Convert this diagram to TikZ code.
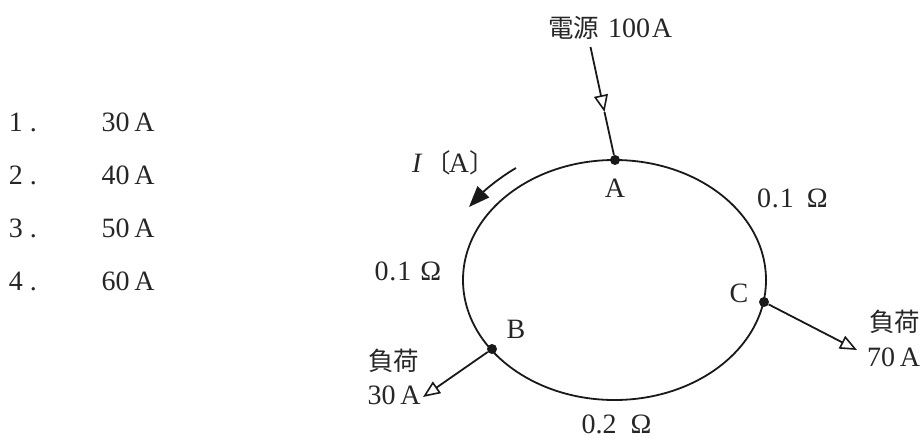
\documentclass[tikz,border=0pt]{standalone}
\usepackage{fontspec}
\setmainfont{Liberation Serif}
\newfontfamily\cjk{Noto Sans CJK JP}
\usetikzlibrary{arrows.meta}
\tikzset{
  px/.style={x=1pt,y=-1pt},
  lbl/.style={inner sep=0pt,outer sep=0pt,font=\fontsize{28}{32}\selectfont,text=black!85},
  wire/.style={line width=1.8pt,black!90},
  dotnode/.style={circle,fill=black!90,inner sep=0pt,minimum size=10pt},
  hollow/.style={-{Triangle[open,fill=white,length=17pt,width=14pt,line width=1.6pt]}}
}
\newcommand{\cjktxt}[1]{{\cjk\fontsize{25.5}{30}\selectfont #1}}
\begin{document}
\begin{tikzpicture}[px]
\useasboundingbox (0,0) rectangle (923,439);
% options
\foreach \n/\v/\y in {1/30/131,2/40/184,3/50/237,4/60/290}{
  \node[lbl,anchor=base west] (num\n) at (9,\y) {\n\hspace{7pt}.};
  \node[lbl,anchor=base west] (val\n) at (101.5,\y) {\v\hspace{5pt}A};
}
% ring
\draw[wire] (614.5,280) ellipse [x radius=151.5,y radius=120];
\node[dotnode] (A) at (615,160) {};
\node[dotnode] (B) at (492,349) {};
\node[dotnode] (C) at (764,302) {};
% source
\coordinate (srcstart) at (590.5,47);
\coordinate (srctip) at (604.5,112);
\draw[wire,hollow] (srcstart) -- (srctip);
\draw[wire] (srctip) -- (A);
% loads
\coordinate (btip) at (423,397);
\draw[wire,hollow] (B) -- (btip);
\coordinate (ctip) at (857,350);
\draw[wire,hollow] (C) -- (ctip);
% current arrow
\coordinate (istart) at (516,168);
\coordinate (iend) at (469,207);
\draw[wire,-{Triangle[length=21pt,width=16pt]}] (istart) .. controls (502,176) and (486,189) .. (iend);
% labels
\node[lbl,anchor=base west] (src) at (548,37) {\cjktxt{電源}\hspace{9pt}100\hspace{2pt}A};
\node[lbl,anchor=base] (la) at (615,197) {A};
\node[lbl,anchor=base] (lb) at (516,338) {B};
\node[lbl,anchor=base] (lc) at (739,302) {C};
\node[lbl,anchor=base west] (ii) at (412,172) {\textit{I}\hspace{3pt}\cjktxt{〔}\hspace{-2pt}A\hspace{0pt}\cjktxt{〕}};
\node[lbl,anchor=base west] (r1) at (757,207) {0\hspace{1pt}.\hspace{1pt}1\hspace{13pt}Ω};
\node[lbl,anchor=base west] (r2) at (374.5,280) {0\hspace{1pt}.\hspace{1pt}1\hspace{9pt}Ω};
\node[lbl,anchor=base west] (r3) at (581.5,433) {0.2\hspace{14pt}Ω};
\node[lbl,anchor=base west] (l1a) at (368,370) {\cjktxt{負荷}};
\node[lbl,anchor=base west] (l1b) at (367.5,404) {30\hspace{5pt}A};
\node[lbl,anchor=base west] (l2a) at (869,331) {\cjktxt{負荷}};
\node[lbl,anchor=base west] (l2b) at (867,366.5) {70\hspace{5pt}A};
\end{tikzpicture}
\end{document}
